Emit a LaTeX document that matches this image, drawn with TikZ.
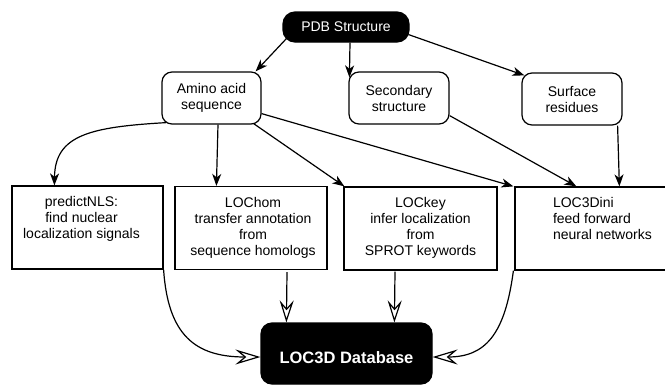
\documentclass[tikz,border=0pt]{standalone}
\usepackage{fontspec}
\setmainfont{Liberation Sans}
\usetikzlibrary{arrows.meta,calc}
\begin{document}
\begin{tikzpicture}[x=1pt,y=-1pt,line width=1.2pt,
  every node/.style={font=\fontsize{14}{16}\selectfont},
  pill/.style={draw,fill=black,text=white,rounded corners=12pt,inner sep=0pt},
  inbox/.style={draw,rounded corners=10pt,align=center,inner sep=0pt,
    minimum width=100pt,minimum height=52pt},
  toolbox/.style={draw,inner sep=0pt,minimum height=83pt},
  txt/.style 2 args={label={[anchor=north,align=center,inner sep=0pt,
    xshift=#1,yshift=-10.5pt]north:{#2}}},
  feed/.style={-{Stealth[length=12pt,width=9pt,inset=3.5pt]}},
  into/.style={-{Stealth[open,length=22pt,width=14pt,inset=8pt]}},
  intowide/.style={-{Stealth[open,length=25pt,width=15pt,inset=9pt]}}]

\clip (0,0) rectangle (665,384);

% sources
\node[pill,minimum width=126pt,minimum height=30pt] (pdb) at (346,27) {PDB Structure};
\node[inbox,minimum width=99pt] (amino) at (211.5,98) {Amino acid\\sequence};
\node[inbox] (sec) at (399,98) {Secondary\\structure};
\node[inbox] (surf) at (572,99) {Surface\\residues};

% prediction methods
\node[toolbox,minimum width=151pt,
  txt={-6pt}{predictNLS:\\find nuclear\\localization signals}] (nls) at (87.5,227.5) {};
\node[toolbox,minimum width=152pt,
  txt={2pt}{LOChom\\transfer annotation\\from\\sequence homologs}] (hom) at (251,228) {};
\node[toolbox,minimum width=153pt,
  txt={0pt}{LOCkey\\infer localization\\from\\SPROT keywords}] (key) at (420.5,228.5) {};
\node[toolbox,minimum width=170pt,
  label={[anchor=north west,align=left,inner sep=0pt,xshift=38pt,yshift=-10.5pt]
    north west:{LOC3Dini\\feed forward\\neural networks}}] (ini) at (600,228.5) {};

% database
\node[pill,rounded corners=11pt,minimum width=171pt,minimum height=61pt,
  font=\bfseries\fontsize{16.5}{18}\selectfont,text height=19pt,text depth=0pt]
  (db) at (346.5,353.5) {LOC3D Database};

% structure to features
\draw[feed] ($(pdb.south west)+(4,-4)$) -- ($(amino.north east)+(-6,0)$);
\draw[feed] ($(pdb.south)+(4,0)$) -- ($(sec.north west)+(1,6)$);
\draw[feed] ($(pdb.south east)+(-1,-8)$) -- ($(surf.north west)+(3,3)$);

% features to methods
\draw[feed] ($(amino.south west)+(5,-2)$) .. controls (90,127) and (55,135) .. ($(nls.north west)+(43,0)$);
\draw[feed] ($(amino.south)+(6.5,0)$) -- ($(hom.north west)+(42,0)$);
\draw[feed] ($(amino.south east)+(-8,-1)$) -- ($(key.north west)+(1,0)$);
\draw[feed] ($(amino.south east)+(0,-11)$) -- ($(ini.north west)+(-1,0)$);
\draw[feed] ($(sec.south east)+(0,-9)$) -- ($(ini.north west)+(62,0)$);
\draw[feed] ($(surf.south east)+(-5,0)$) -- ($(ini.north west)+(105,0)$);

% methods to database
\draw[intowide] (nls.south east) .. controls (168,335) and (195,357) .. ($(db.west)+(0,3.5)$);
\draw[into] ($(hom.south)+(36,2)$) -- ($(db.north west)+(26,0)$);
\draw[into] ($(key.south)+(-25.5,1)$) -- ($(db.north west)+(134,0)$);
\draw[intowide] ($(ini.south west)+(-1,0)$) .. controls (505,335) and (485,357) .. ($(db.east)+(0,3.5)$);
\end{tikzpicture}
\end{document}
